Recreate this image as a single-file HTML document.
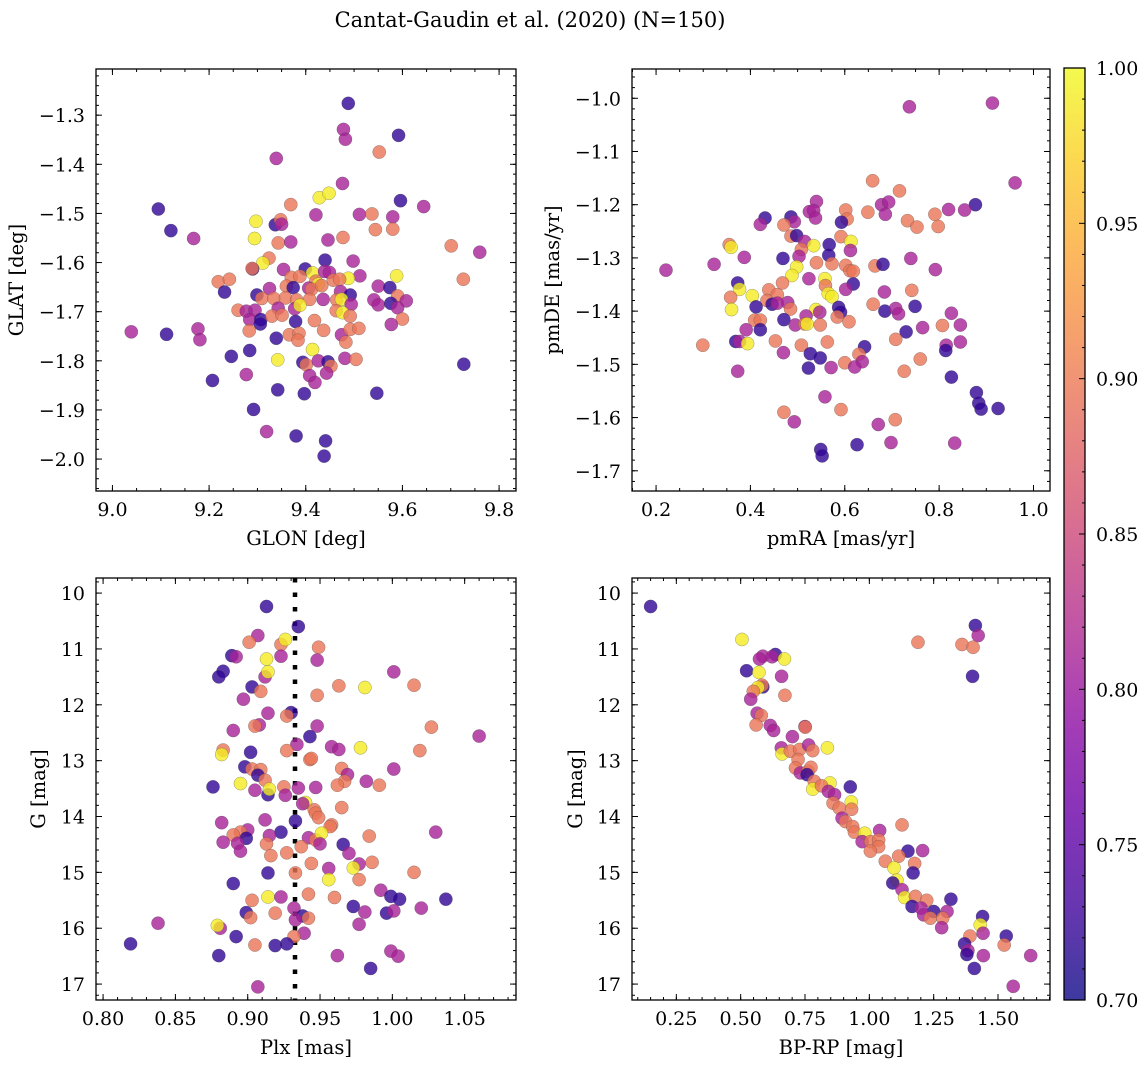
<!DOCTYPE html>
<html><head><meta charset="utf-8">
<style>
html,body{margin:0;padding:0;background:#fff;}
svg{display:block;font-family:"DejaVu Serif","Liberation Serif",serif;}
</style></head>
<body>
<svg id="fig" width="1148" height="1068" viewBox="0 0 1148 1068" xmlns="http://www.w3.org/2000/svg">
<defs>
<linearGradient id="plasmaGrad" x1="0" y1="1" x2="0" y2="0"></linearGradient>
</defs>
<text x="530" y="27" font-size="21" text-anchor="middle">Cantat-Gaudin et al. (2020) (N=150)</text>
</svg>
<script>
// ---------- Panel 1 data: GLON / GLAT ----------
const p1Lon=[9.488,9.478,9.482,9.592,9.552,9.339,9.476,9.428,9.448,9.095,
9.596,9.369,9.644,9.511,9.537,9.580,9.421,9.297,9.337,9.348,
9.350,9.121,9.168,9.544,9.580,9.294,9.343,9.369,9.446,9.477,
9.701,9.760,9.324,9.311,9.440,9.498,9.290,9.289,9.354,9.399,
9.414,9.439,9.449,9.512,9.488,9.588,9.219,9.242,9.370,9.388,
9.421,9.426,9.457,9.470,9.726,9.232,9.299,9.325,9.360,9.374,
9.406,9.412,9.433,9.472,9.492,9.550,9.574,9.590,9.608,9.309,
9.334,9.358,9.381,9.408,9.436,9.464,9.474,9.494,9.541,9.550,
9.576,9.590,9.260,9.277,9.295,9.343,9.377,9.388,9.463,9.476,
9.284,9.307,9.306,9.330,9.351,9.379,9.418,9.492,9.600,9.577,
9.039,9.112,9.177,9.181,9.283,9.339,9.366,9.386,9.384,9.437,
9.474,9.492,9.510,9.483,9.246,9.284,9.342,9.414,9.394,9.401,
9.426,9.446,9.452,9.481,9.504,9.727,9.207,9.277,9.408,9.419,
9.443,9.342,9.397,9.547,9.292,9.319,9.380,9.441,9.438];
const p1Lat=[-1.276,-1.329,-1.349,-1.341,-1.375,-1.388,-1.439,-1.468,-1.459,-1.491,
-1.474,-1.482,-1.486,-1.502,-1.501,-1.507,-1.503,-1.516,-1.523,-1.513,
-1.522,-1.535,-1.551,-1.533,-1.532,-1.551,-1.560,-1.558,-1.554,-1.549,
-1.566,-1.579,-1.591,-1.601,-1.595,-1.597,-1.613,-1.612,-1.614,-1.613,
-1.621,-1.618,-1.620,-1.627,-1.632,-1.627,-1.639,-1.634,-1.630,-1.628,
-1.638,-1.644,-1.636,-1.634,-1.634,-1.660,-1.666,-1.653,-1.648,-1.651,
-1.652,-1.654,-1.647,-1.659,-1.666,-1.648,-1.651,-1.668,-1.678,-1.673,
-1.673,-1.672,-1.676,-1.675,-1.675,-1.676,-1.675,-1.685,-1.676,-1.686,
-1.683,-1.692,-1.697,-1.699,-1.697,-1.693,-1.694,-1.687,-1.698,-1.702,
-1.716,-1.716,-1.725,-1.709,-1.707,-1.720,-1.718,-1.709,-1.715,-1.726,
-1.741,-1.746,-1.735,-1.757,-1.739,-1.754,-1.747,-1.744,-1.758,-1.738,
-1.747,-1.736,-1.734,-1.762,-1.791,-1.779,-1.798,-1.777,-1.803,-1.808,
-1.800,-1.802,-1.811,-1.795,-1.797,-1.807,-1.840,-1.828,-1.830,-1.844,
-1.825,-1.859,-1.867,-1.866,-1.899,-1.944,-1.953,-1.963,-1.994];
const p1Prob=[.72,.81,.81,.72,.895,.81,.81,.99,.99,.72,
.72,.895,.81,.81,.895,.81,.81,.99,.72,.895,
.81,.72,.81,.895,.895,.99,.895,.81,.81,.895,
.895,.81,.895,.99,.72,.81,.72,.895,.81,.72,
.99,.81,.81,.81,.99,.99,.895,.895,.895,.895,
.895,.99,.895,.895,.895,.72,.72,.81,.895,.72,
.81,.895,.895,.81,.72,.81,.72,.895,.81,.895,
.895,.895,.895,.895,.81,.895,.99,.81,.81,.81,
.72,.81,.895,.81,.81,.81,.81,.99,.895,.99,
.81,.72,.72,.895,.895,.72,.895,.895,.895,.81,
.81,.72,.81,.81,.895,.72,.895,.895,.895,.895,
.81,.895,.895,.895,.72,.72,.99,.99,.72,.895,
.81,.72,.895,.81,.895,.72,.72,.81,.81,.81,
.81,.72,.72,.72,.72,.81,.72,.72,.72];
const p1XTicks=[9.0,9.2,9.4,9.6,9.8];
const p1XLabels=["9.0","9.2","9.4","9.6","9.8"];
const p1YTicks=[-2.0,-1.9,-1.8,-1.7,-1.6,-1.5,-1.4,-1.3];
const p1YLabels=["\u22122.0","\u22121.9","\u22121.8","\u22121.7","\u22121.6","\u22121.5","\u22121.4","\u22121.3"];

// ---------- Panel 2 data: pmRA / pmDE ----------
const p2PmRA=[0.737,0.913,0.961,0.659,0.716,0.540,0.877,0.678,0.693,0.686,
0.820,0.854,0.791,0.649,0.602,0.605,0.593,0.431,0.421,0.486,
0.493,0.525,0.534,0.538,0.471,0.733,0.753,0.798,0.486,0.498,
0.515,0.592,0.613,0.612,0.355,0.359,0.534,0.567,0.566,0.508,
0.503,0.387,0.323,0.221,0.469,0.540,0.573,0.602,0.611,0.618,
0.664,0.681,0.740,0.792,0.498,0.488,0.524,0.373,0.558,0.559,
0.468,0.618,0.602,0.742,0.684,0.377,0.404,0.358,0.439,0.457,
0.435,0.446,0.457,0.479,0.485,0.565,0.573,0.412,0.539,0.547,
0.587,0.591,0.660,0.685,0.708,0.714,0.749,0.360,0.409,0.421,
0.471,0.421,0.391,0.495,0.518,0.515,0.520,0.548,0.584,0.609,
0.730,0.765,0.807,0.826,0.845,0.299,0.369,0.377,0.394,0.453,
0.508,0.563,0.470,0.527,0.548,0.642,0.630,0.637,0.708,0.815,
0.814,0.845,0.600,0.571,0.621,0.523,0.373,0.760,0.726,0.826,
0.879,0.884,0.889,0.925,0.558,0.592,0.471,0.493,0.671,0.707,
0.549,0.552,0.626,0.698,0.833];
const p2PmDE=[-1.016,-1.009,-1.159,-1.155,-1.174,-1.194,-1.200,-1.200,-1.195,-1.218,
-1.209,-1.210,-1.218,-1.214,-1.210,-1.227,-1.233,-1.225,-1.237,-1.223,
-1.232,-1.213,-1.211,-1.225,-1.238,-1.230,-1.242,-1.241,-1.259,-1.258,
-1.269,-1.260,-1.269,-1.286,-1.275,-1.280,-1.277,-1.275,-1.295,-1.284,
-1.297,-1.299,-1.312,-1.323,-1.301,-1.309,-1.311,-1.314,-1.324,-1.325,
-1.315,-1.312,-1.301,-1.322,-1.317,-1.333,-1.339,-1.347,-1.339,-1.352,
-1.347,-1.349,-1.359,-1.361,-1.364,-1.359,-1.371,-1.374,-1.360,-1.369,
-1.380,-1.387,-1.385,-1.384,-1.396,-1.367,-1.373,-1.392,-1.397,-1.402,
-1.393,-1.402,-1.387,-1.400,-1.395,-1.405,-1.391,-1.397,-1.417,-1.417,
-1.416,-1.435,-1.435,-1.426,-1.409,-1.424,-1.424,-1.426,-1.411,-1.420,
-1.439,-1.431,-1.427,-1.404,-1.426,-1.464,-1.457,-1.457,-1.461,-1.456,
-1.464,-1.458,-1.478,-1.480,-1.488,-1.467,-1.481,-1.495,-1.453,-1.464,
-1.474,-1.458,-1.497,-1.506,-1.505,-1.507,-1.513,-1.490,-1.513,-1.524,
-1.553,-1.573,-1.584,-1.583,-1.561,-1.585,-1.590,-1.608,-1.613,-1.604,
-1.660,-1.672,-1.651,-1.647,-1.648];
const p2Prob=[.81,.81,.81,.895,.895,.81,.72,.81,.81,.81,
.81,.81,.895,.895,.895,.895,.72,.72,.81,.72,
.81,.81,.81,.81,.895,.895,.895,.895,.895,.72,
.81,.895,.99,.81,.895,.99,.99,.72,.72,.895,
.81,.81,.81,.81,.72,.895,.895,.895,.895,.895,
.895,.72,.81,.81,.99,.99,.81,.72,.99,.895,
.895,.72,.81,.895,.81,.99,.99,.895,.895,.895,
.895,.72,.81,.81,.895,.99,.99,.72,.99,.81,
.72,.72,.895,.72,.81,.81,.72,.99,.895,.895,
.72,.72,.81,.81,.81,.895,.99,.895,.895,.895,
.72,.81,.895,.81,.81,.895,.72,.81,.99,.895,
.895,.895,.81,.72,.72,.72,.895,.81,.895,.81,
.72,.81,.895,.81,.81,.72,.81,.895,.895,.72,
.72,.72,.72,.72,.81,.895,.895,.81,.81,.895,
.72,.72,.72,.81,.81];
const p2XTicks=[0.2,0.4,0.6,0.8,1.0];
const p2XLabels=["0.2","0.4","0.6","0.8","1.0"];
const p2YTicks=[-1.7,-1.6,-1.5,-1.4,-1.3,-1.2,-1.1,-1.0];
const p2YLabels=["\u22121.7","\u22121.6","\u22121.5","\u22121.4","\u22121.3","\u22121.2","\u22121.1","\u22121.0"];

// ---------- Panel 3 data: Plx / G ----------
const p3Plx=[0.913,0.935,0.907,0.901,0.923,0.926,0.949,0.889,0.892,0.913,
0.923,0.948,0.883,0.880,0.912,0.914,1.001,0.903,0.909,0.963,
0.981,1.015,0.897,0.948,0.914,0.930,0.927,0.890,0.908,0.905,
0.948,1.027,1.060,0.943,0.934,0.958,0.963,0.978,1.019,0.883,
0.882,0.902,0.927,0.943,0.944,0.898,0.903,0.909,0.907,0.912,
0.965,0.969,1.001,0.967,0.962,0.982,0.991,0.876,0.895,0.905,
0.914,0.915,0.925,0.926,0.935,0.947,0.940,0.938,0.946,0.947,
0.949,0.965,0.882,0.912,0.933,0.958,0.957,0.923,0.900,0.895,
0.890,0.899,0.915,0.883,0.893,0.895,0.913,0.942,0.947,0.951,
0.950,0.937,0.966,0.984,1.030,0.916,0.927,0.944,0.970,0.977,
0.973,0.986,0.956,0.914,0.933,0.956,0.977,1.015,0.890,0.992,
0.999,1.005,1.037,0.914,0.923,0.903,0.942,0.960,0.973,0.981,
0.996,1.001,1.020,0.899,0.902,0.919,0.932,0.938,0.942,0.933,
0.838,0.881,0.879,0.977,0.892,0.939,0.932,0.819,0.905,0.919,
0.927,0.880,0.962,0.999,1.004,0.985,0.907];
const p3G=[10.24,10.60,10.76,10.88,10.92,10.83,10.97,11.12,11.14,11.18,
11.13,11.20,11.40,11.50,11.50,11.41,11.41,11.68,11.76,11.66,
11.69,11.65,11.90,11.83,12.15,12.14,12.20,12.46,12.36,12.38,
12.38,12.40,12.56,12.57,12.71,12.75,12.80,12.77,12.82,12.81,
12.89,12.85,12.82,12.98,12.96,13.11,13.15,13.16,13.26,13.35,
13.14,13.25,13.15,13.37,13.44,13.37,13.44,13.47,13.41,13.53,
13.61,13.51,13.47,13.62,13.49,13.48,13.75,13.77,13.88,13.94,
14.02,13.84,14.11,14.06,14.08,14.15,14.18,14.28,14.24,14.28,
14.33,14.39,14.34,14.46,14.48,14.62,14.49,14.38,14.42,14.30,
14.49,14.54,14.50,14.35,14.28,14.70,14.65,14.84,14.66,14.85,
14.92,14.82,14.93,15.01,15.01,15.13,15.13,15.00,15.20,15.32,
15.43,15.48,15.48,15.44,15.44,15.50,15.39,15.45,15.61,15.71,
15.73,15.69,15.64,15.72,15.81,15.73,15.64,15.78,15.82,15.85,
15.91,16.00,15.95,15.93,16.15,16.09,16.15,16.28,16.30,16.31,
16.28,16.49,16.49,16.41,16.50,16.72,17.05];
const p3Prob=[.72,.72,.81,.895,.895,.99,.895,.72,.81,.99,
.81,.81,.72,.72,.81,.99,.81,.72,.895,.895,
.99,.895,.81,.895,.81,.72,.895,.81,.81,.895,
.81,.895,.81,.72,.81,.81,.81,.99,.895,.895,
.99,.72,.895,.895,.895,.72,.895,.895,.72,.895,
.895,.81,.81,.895,.895,.81,.895,.72,.99,.81,
.72,.99,.895,.81,.81,.81,.99,.81,.895,.895,
.895,.895,.81,.81,.72,.895,.895,.72,.81,.895,
.895,.72,.81,.81,.81,.81,.895,.81,.895,.99,
.81,.895,.72,.895,.81,.895,.895,.895,.81,.81,
.99,.895,.81,.72,.895,.99,.895,.895,.72,.81,
.72,.72,.72,.99,.81,.895,.895,.895,.72,.81,
.72,.81,.81,.72,.895,.895,.81,.72,.895,.81,
.81,.81,.99,.81,.72,.81,.895,.72,.895,.72,
.72,.72,.81,.81,.81,.72,.81];
const p3XTicks=[0.80,0.85,0.90,0.95,1.00,1.05];
const p3XLabels=["0.80","0.85","0.90","0.95","1.00","1.05"];
const p3YTicks=[10,11,12,13,14,15,16,17];
const p3YLabels=["10","11","12","13","14","15","16","17"];
const p3PlxMedian=0.9327;

// ---------- Panel 4 data: BP-RP / G ----------
const p4BpRp=[0.150,0.505,1.412,1.423,1.189,1.360,1.403,1.401,0.635,0.586,
0.622,0.573,0.670,0.523,0.571,0.659,0.586,0.583,0.567,0.549,
0.672,0.539,0.564,0.580,0.560,0.615,0.628,0.750,0.751,0.701,
0.658,0.661,0.693,0.729,0.764,0.780,0.837,0.723,0.713,0.732,
0.762,0.773,0.758,0.786,0.847,0.780,0.814,0.841,0.865,0.926,
0.859,0.883,0.930,0.931,0.894,0.907,0.935,0.942,0.982,0.972,
1.040,1.005,1.036,1.036,1.004,1.127,1.150,1.207,1.114,1.062,
1.176,1.170,1.096,1.107,1.091,1.127,1.137,1.179,1.223,1.317,
1.166,1.201,1.250,1.211,1.237,1.302,1.285,1.281,1.440,1.431,
1.442,1.391,1.370,1.383,1.379,1.443,1.408,1.532,1.524,1.627,1.559];
const p4G=[10.24,10.83,10.58,10.76,10.88,10.92,10.97,11.49,11.10,11.13,
11.14,11.18,11.18,11.39,11.42,11.49,11.68,11.65,11.69,11.76,
11.83,11.90,12.15,12.19,12.36,12.37,12.46,12.39,12.40,12.57,
12.77,12.88,12.83,12.80,12.72,12.82,12.77,12.98,13.13,13.22,
13.19,13.12,13.25,13.37,13.40,13.51,13.45,13.55,13.61,13.47,
13.76,13.85,13.74,13.87,14.03,14.09,14.18,14.28,14.30,14.45,
14.25,14.45,14.42,14.54,14.62,14.15,14.62,14.61,14.71,14.80,
14.84,15.01,14.92,15.14,15.19,15.31,15.45,15.43,15.50,15.48,
15.61,15.64,15.70,15.76,15.82,15.70,15.82,15.99,15.79,15.94,
16.09,16.14,16.28,16.40,16.47,16.49,16.72,16.14,16.30,16.49,17.04];
const p4Prob=[.72,.99,.72,.81,.895,.895,.895,.72,.72,.81,
.81,.81,.99,.72,.99,.81,.72,.895,.99,.895,
.895,.81,.81,.895,.895,.81,.81,.81,.895,.81,
.81,.99,.895,.895,.81,.895,.99,.895,.895,.81,
.895,.895,.72,.895,.99,.99,.895,.81,.81,.72,
.895,.895,.99,.895,.81,.895,.895,.895,.99,.81,
.81,.895,.895,.895,.895,.895,.72,.81,.895,.895,
.895,.72,.99,.99,.72,.81,.99,.895,.895,.72,
.72,.81,.72,.81,.895,.81,.895,.81,.72,.99,
.81,.895,.72,.81,.72,.81,.72,.72,.895,.81,.81];
const p4XTicks=[0.25,0.50,0.75,1.00,1.25,1.50];
const p4XLabels=["0.25","0.50","0.75","1.00","1.25","1.50"];
const p4YTicks=[10,11,12,13,14,15,16,17];
const p4YLabels=["10","11","12","13","14","15","16","17"];

// ---------- Colorbar ----------
const cbTicks=[0.70,0.75,0.80,0.85,0.90,0.95,1.00];
const cbLabels=["0.70","0.75","0.80","0.85","0.90","0.95","1.00"];
const cbMin=0.70, cbMax=1.00;

const NS="http://www.w3.org/2000/svg";
const svg=document.getElementById('fig');
const plasma=[[13,8,135],[65,4,157],[106,0,168],[143,13,164],[177,42,144],[204,71,120],[225,100,98],[242,132,75],[252,166,54],[252,206,37],[240,249,33]];
function cmap(v){
  let t=(v-cbMin)/(cbMax-cbMin); t=Math.max(0,Math.min(1,t));
  const f=t*10, i=Math.min(9,Math.floor(f)), r=f-i;
  const a=plasma[i], b=plasma[i+1];
  return 'rgb('+[0,1,2].map(k=>Math.round(a[k]+(b[k]-a[k])*r)).join(',')+')';
}
function el(tag,attrs,parent){
  const e=document.createElementNS(NS,tag);
  for(const k in attrs) e.setAttribute(k,attrs[k]);
  (parent||svg).appendChild(e);
  return e;
}
function scale(d0,d1,r0,r1){return v=>r0+(v-d0)*(r1-r0)/(d1-d0);}

function panel(cfg){
  const g=el('g',{});
  
  
  const {l,t,r,b}=cfg.box;
  const sx=scale(cfg.xd[0],cfg.xd[1],l,r);
  const sy=scale(cfg.yd[0],cfg.yd[1],b,t);
  const cid='clip-'+cfg.name;
  const cp=el('clipPath',{id:cid},g);
  el('rect',{x:l,y:t,width:r-l,height:b-t},cp);
  if(cfg.vline!==undefined){
    const vl=el('line',{x1:sx(cfg.vline),x2:sx(cfg.vline),y1:t,y2:b,stroke:'#000','stroke-width':4.5,'stroke-dasharray':'4.5 10'},g);
    
    
  }
  const pg=el('g',{'clip-path':'url(#'+cid+')'},g);
  
  
  const n=Math.min(cfg.xs.length,cfg.ys.length,cfg.ps.length);
  for(let i=0;i<n;i++){
    const c=el('circle',{cx:sx(cfg.xs[i]),cy:sy(cfg.ys[i]),r:6.6,fill:cmap(cfg.ps[i]),'fill-opacity':0.8,stroke:'#444','stroke-opacity':0.5,'stroke-width':0.5},pg);
    
    
  }
  const tg=el('g',{stroke:'#000','stroke-width':1},g);
  
  
  function xt(v,len){const x=sx(v); if(x<l-0.5||x>r+0.5)return; el('line',{x1:x,x2:x,y1:b,y2:b-len},tg); el('line',{x1:x,x2:x,y1:t,y2:t+len},tg);}
  function yt(v,len){const y=sy(v); if(y<t-0.5||y>b+0.5)return; el('line',{x1:l,x2:l+len,y1:y,y2:y},tg); el('line',{x1:r,x2:r-len,y1:y,y2:y},tg);}
  const xs0=Math.ceil(Math.min(...cfg.xd)/cfg.xminor), xs1=Math.floor(Math.max(...cfg.xd)/cfg.xminor);
  for(let k=xs0;k<=xs1;k++) xt(k*cfg.xminor,3);
  const ys0=Math.ceil(Math.min(...cfg.yd)/cfg.yminor), ys1=Math.floor(Math.max(...cfg.yd)/cfg.yminor);
  for(let k=ys0;k<=ys1;k++) yt(k*cfg.yminor,3);
  cfg.xt.forEach(v=>xt(v,6));
  cfg.yt.forEach(v=>yt(v,6));
  cfg.xt.forEach((v,i)=>{
    const tx=el('text',{x:sx(v),y:b+25,'font-size':19,'text-anchor':'middle'},g);
    tx.textContent=cfg.xl[i];
    
    
  });
  cfg.yt.forEach((v,i)=>{
    const ty=el('text',{x:l-11,y:sy(v)+7,'font-size':19,'text-anchor':'end'},g);
    ty.textContent=cfg.yl[i];
    
    
  });
  const xa=el('text',{x:(l+r)/2,y:b+54,'font-size':19.5,'text-anchor':'middle'},g);
  xa.textContent=cfg.xlabel;
  
  
  const ya=el('text',{x:0,y:0,'font-size':19.5,'text-anchor':'middle',transform:'translate('+cfg.ylx+','+((t+b)/2)+') rotate(-90)'},g);
  ya.textContent=cfg.ylabel;
  
  
  const fr=el('rect',{x:l,y:t,width:r-l,height:b-t,fill:'none',stroke:'#000','stroke-width':1.3},g);
  
  
}

panel({name:'panel-glon-glat',box:{l:96,t:69,r:516,b:491},xd:[8.966,9.835],yd:[-2.065,-1.206],
  xs:p1Lon,ys:p1Lat,ps:p1Prob,xt:p1XTicks,xl:p1XLabels,yt:p1YTicks,yl:p1YLabels,xminor:0.05,yminor:0.02,
  xlabel:'GLON [deg]',ylabel:'GLAT [deg]',ylx:23});
panel({name:'panel-pmra-pmde',box:{l:632,t:69,r:1050,b:491},xd:[0.149,1.035],yd:[-1.738,-0.945],
  xs:p2PmRA,ys:p2PmDE,ps:p2Prob,xt:p2XTicks,xl:p2XLabels,yt:p2YTicks,yl:p2YLabels,xminor:0.05,yminor:0.02,
  xlabel:'pmRA [mas/yr]',ylabel:'pmDE [mas/yr]',ylx:559});
panel({name:'panel-plx-g',box:{l:96,t:578,r:516,b:1000},xd:[0.7951,1.0855],yd:[17.285,9.73],
  xs:p3Plx,ys:p3G,ps:p3Prob,xt:p3XTicks,xl:p3XLabels,yt:p3YTicks,yl:p3YLabels,xminor:0.01,yminor:0.2,
  xlabel:'Plx [mas]',ylabel:'G [mag]',ylx:45,vline:p3PlxMedian});
panel({name:'panel-bprp-g',box:{l:632,t:578,r:1050,b:1000},xd:[0.0777,1.702],yd:[17.285,9.73],
  xs:p4BpRp,ys:p4G,ps:p4Prob,xt:p4XTicks,xl:p4XLabels,yt:p4YTicks,yl:p4YLabels,xminor:0.05,yminor:0.2,
  xlabel:'BP-RP [mag]',ylabel:'G [mag]',ylx:582});

(function(){
  const grad=document.getElementById('plasmaGrad');
  plasma.forEach((c,i)=>{el('stop',{offset:(i/10),'stop-color':'rgb('+c.join(',')+')'},grad);});
  const L=1064,R=1085,T=68,B=1000;
  const cs=scale(cbMin,cbMax,B,T);
  const g=el('g',{});
  
  
  el('rect',{x:L,y:T,width:R-L,height:B-T,fill:'url(#plasmaGrad)','fill-opacity':0.8},g);
  for(let k=70;k<=100;k++){
    const y=cs(k/100);
    const major=(k%5===0);
    el('line',{x1:R,x2:R-(major?6:3),y1:y,y2:y,stroke:'#000','stroke-width':1},g);
  }
  cbTicks.forEach((v,i)=>{
    const tx=el('text',{x:R+11,y:cs(v)+7,'font-size':19},g);
    tx.textContent=cbLabels[i];
    
    
  });
  el('rect',{x:L,y:T,width:R-L,height:B-T,fill:'none',stroke:'#000','stroke-width':1.3},g);
})();
</script>
</body></html>
